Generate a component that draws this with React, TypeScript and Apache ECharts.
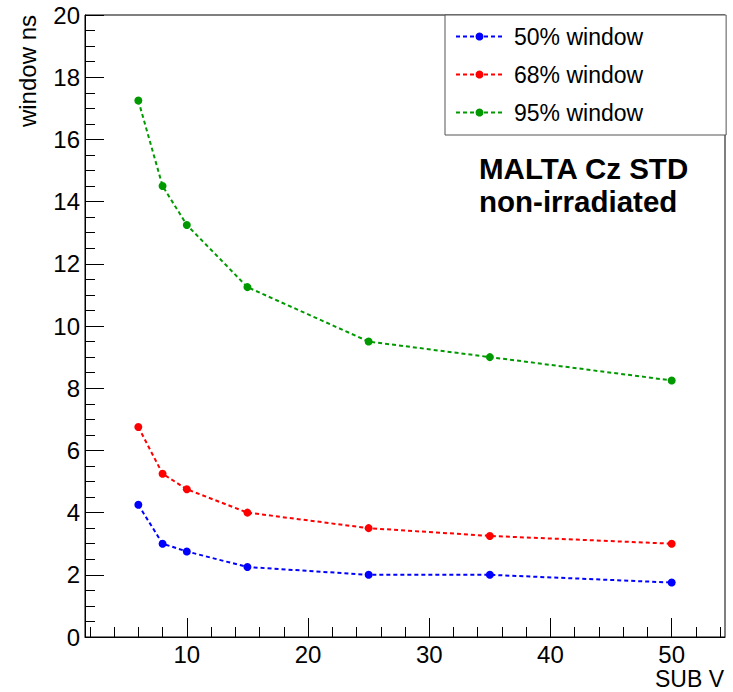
import React, { useEffect, useRef } from "react";
import * as echarts from "echarts";

const subV = [6, 8, 10, 15, 25, 35, 50];
const win50 = [4.25, 3.0, 2.75, 2.25, 2.0, 2.0, 1.75];
const win68 = [6.75, 5.25, 4.75, 4.0, 3.5, 3.25, 3.0];
const win95 = [17.25, 14.5, 13.25, 11.25, 9.5, 9.0, 8.25];
const xMajor = [10, 20, 30, 40, 50];
const xMinor = [2, 4, 6, 8, 12, 14, 16, 18, 22, 24, 26, 28, 32, 34, 36, 38, 42, 44, 46, 48, 52, 54];
const seriesNames = ["50% window", "68% window", "95% window"];
const seriesColors = ["#0000ff", "#ff0000", "#009a00"];

const FONT = "Liberation Sans, Arial, Helvetica, sans-serif";

export default function App() {
  const ref = useRef<HTMLDivElement>(null);
  useEffect(() => {
    const chart = echarts.init(ref.current!, null, { renderer: "svg" });
    const datasets = [win50, win68, win95];
    chart.setOption({
      animation: false,
      backgroundColor: "#ffffff",
      textStyle: { fontFamily: FONT },
      grid: {
        left: 85,
        top: 15,
        right: 8,
        bottom: 55,
        show: true,
        borderColor: "#000",
        borderWidth: 1,
        containLabel: false,
      },
      xAxis: [
        {
          type: "value",
          min: 1.6,
          max: 54.4,
          position: "bottom",
          axisLine: { show: true, lineStyle: { color: "#000", width: 1 } },
          axisTick: {
            show: true,
            inside: true,
            length: 19,
            customValues: xMajor,
            lineStyle: { color: "#000", width: 1 },
          },
          axisLabel: {
            customValues: xMajor,
            fontSize: 24,
            color: "#000",
            margin: 5,
            fontFamily: FONT,
          },
          splitLine: { show: false },
        },
        {
          type: "value",
          min: 1.6,
          max: 54.4,
          position: "bottom",
          axisLine: { show: false },
          axisTick: {
            show: true,
            inside: true,
            length: 10,
            customValues: xMinor,
            lineStyle: { color: "#000", width: 1 },
          },
          axisLabel: { show: false },
          splitLine: { show: false },
        },
      ],
      yAxis: [
        {
          type: "value",
          min: 0,
          max: 20,
          interval: 2,
          axisLine: { show: true, lineStyle: { color: "#000", width: 1 } },
          axisTick: {
            show: true,
            inside: true,
            length: 19,
            lineStyle: { color: "#000", width: 1 },
          },
          minorTick: {
            show: true,
            splitNumber: 4,
            length: 10,
            lineStyle: { color: "#000", width: 1 },
          },
          axisLabel: {
            fontSize: 24,
            color: "#000",
            margin: 5,
            fontFamily: FONT,
          },
          splitLine: { show: false },
          minorSplitLine: { show: false },
        },
      ],
      legend: {
        orient: "vertical",
        left: 445,
        top: 15,
        data: seriesNames,
        itemWidth: 47,
        itemHeight: 10,
        itemGap: 15,
        padding: [10, 83, 11, 10],
        backgroundColor: "#ffffff",
        borderColor: "#555",
        borderWidth: 1,
        borderRadius: 0,
        textStyle: { fontSize: 23, color: "#000", fontFamily: FONT, padding: [0, 0, 0, 6] },
      },
      graphic: [
        {
          type: "text",
          x: 27,
          y: 15,
          rotation: Math.PI / 2,
          style: {
            text: "window ns",
            fontSize: 24,
            fontFamily: FONT,
            fill: "#000",
            align: "right",
            verticalAlign: "middle",
          },
        },
        {
          type: "text",
          x: 724,
          y: 679,
          style: {
            text: "SUB V",
            fontSize: 23,
            fontFamily: FONT,
            fill: "#000",
            align: "right",
            verticalAlign: "middle",
          },
        },
        {
          type: "text",
          x: 479,
          y: 168,
          style: {
            text: "MALTA Cz STD",
            fontSize: 29.5,
            fontWeight: "bold",
            fontFamily: FONT,
            fill: "#000",
            align: "left",
            verticalAlign: "middle",
          },
        },
        {
          type: "text",
          x: 479,
          y: 201,
          style: {
            text: "non-irradiated",
            fontSize: 29.5,
            fontWeight: "bold",
            fontFamily: FONT,
            fill: "#000",
            align: "left",
            verticalAlign: "middle",
          },
        },
      ],
      series: datasets.map((vals, i) => ({
        name: seriesNames[i],
        type: "line",
        xAxisIndex: 0,
        yAxisIndex: 0,
        data: subV.map((x, j) => [x, vals[j]]),
        symbol: "circle",
        symbolSize: 8,
        showSymbol: true,
        itemStyle: { color: seriesColors[i] },
        lineStyle: { color: seriesColors[i], width: 2, type: [4, 3] },
        z: 3,
      })),
    });
    return () => chart.dispose();
  }, []);
  return <div ref={ref} style={{ width: 733, height: 692, position: "absolute", left: 0, top: 0 }} />;
}
